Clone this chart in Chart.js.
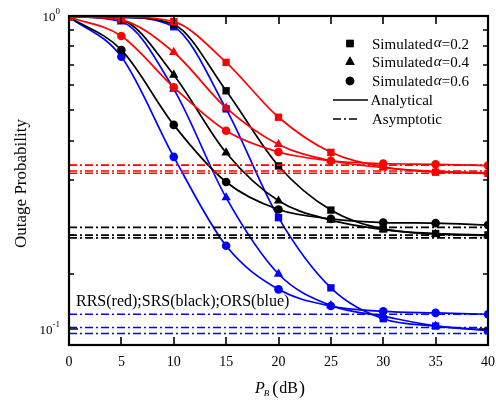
<!DOCTYPE html>
<html>
<head>
<meta charset="utf-8">
<script src="https://cdn.jsdelivr.net/npm/chart.js@4/dist/chart.umd.min.js"></script>
<style>
  html, body { margin: 0; padding: 0; background: #fff; }
  #wrap { width: 496px; height: 402px; }
</style>
</head>
<body>
<div id="wrap"><canvas id="c" width="496" height="402"></canvas></div>
<script>
// Transmit power P_B (dB)
const pB = [0, 5, 10, 15, 20, 25, 30, 35, 40];

// RRS (red)
const rrsA02 = [0.996, 0.993, 0.959, 0.711, 0.475, 0.367, 0.330, 0.317, 0.3145];
const rrsA04 = [0.995, 0.970, 0.766, 0.509, 0.389, 0.345, 0.328, 0.319, 0.316];
const rrsA06 = [0.993, 0.863, 0.592, 0.430, 0.368, 0.345, 0.338, 0.336, 0.333];

// SRS (black)
const srsA02 = [0.996, 0.990, 0.940, 0.577, 0.332, 0.240, 0.209, 0.202, 0.200];
const srsA04 = [0.995, 0.970, 0.648, 0.366, 0.257, 0.223, 0.208, 0.201, 0.199];
const srsA06 = [0.993, 0.779, 0.449, 0.295, 0.241, 0.225, 0.219, 0.218, 0.215];

// ORS (blue)
const orsA02 = [0.996, 0.990, 0.924, 0.505, 0.227, 0.1355, 0.108, 0.1023, 0.0989];
const orsA04 = [0.995, 0.959, 0.584, 0.263, 0.150, 0.119, 0.110, 0.1024, 0.0994];
const orsA06 = [0.993, 0.741, 0.355, 0.1846, 0.134, 0.1185, 0.114, 0.1127, 0.1116];

// High-SNR asymptotes, ordered alpha = 0.2, 0.4, 0.6
const asymRRS = [0.3145, 0.320, 0.334];
const asymSRS = [0.1957, 0.1997, 0.2113];
const asymORS = [0.0969, 0.1012, 0.1116];

const alphas = ['0.2', '0.4', '0.6'];
const schemeNote = 'RRS(red);SRS(black);ORS(blue)';

const RED = '#ff0000', BLACK = '#000000', BLUE = '#0000ff';
const SERIF = '"Liberation Serif", "Times New Roman", serif';
const markers = ['rect', 'triangle', 'circle'];
const markerRadius = { rect: 5.2, triangle: 5.4, circle: 4.3 };

const toXY = vals => pB.map((x, i) => ({ x, y: vals[i] }));

const groups = [
  { color: RED, sets: [rrsA02, rrsA04, rrsA06], asym: asymRRS },
  { color: BLACK, sets: [srsA02, srsA04, srsA06], asym: asymSRS },
  { color: BLUE, sets: [orsA02, orsA04, orsA06], asym: asymORS }
];

const datasets = [];
groups.forEach(g => {
  g.sets.forEach((vals, k) => {
    datasets.push({
      label: 'alpha=' + alphas[k],
      data: toXY(vals),
      showLine: true,
      cubicInterpolationMode: 'monotone',
      borderColor: g.color,
      backgroundColor: g.color,
      borderWidth: 1.7,
      pointStyle: markers[k],
      pointRadius: markerRadius[markers[k]],
      pointBorderWidth: 0,
      pointBackgroundColor: g.color
    });
  });
  g.asym.forEach((v, k) => {
    datasets.push({
      label: 'asymptote alpha=' + alphas[k],
      data: [{ x: pB[0], y: v }, { x: pB[pB.length - 1], y: v }],
      showLine: true,
      borderColor: g.color,
      borderWidth: 1.6,
      borderDash: [8, 3, 2, 3],
      pointRadius: 0
    });
  });
});

// Frame, inward ticks, decade labels, axis titles, legend and note
const decorations = {
  id: 'decorations',
  afterDraw(chart) {
    const { ctx, chartArea: a, scales } = chart;
    const xs = scales.x, ys = scales.y;
    ctx.save();
    ctx.strokeStyle = '#000';
    ctx.fillStyle = '#000';

    // ticks
    ctx.lineWidth = 1.6;
    ctx.beginPath();
    xs.ticks.forEach(t => {
      const px = Math.round(xs.getPixelForValue(t.value));
      if (px <= a.left + 1 || px >= a.right - 1) return;
      ctx.moveTo(px, a.bottom); ctx.lineTo(px, a.bottom - 8);
      ctx.moveTo(px, a.top); ctx.lineTo(px, a.top + 8);
    });
    ys.ticks.forEach(t => {
      const py = Math.round(ys.getPixelForValue(t.value));
      if (py <= a.top + 1 || py >= a.bottom - 1) return;
      const lg = Math.log10(t.value);
      const len = Math.abs(lg - Math.round(lg)) < 1e-6 ? 9 : 5;
      ctx.moveTo(a.left, py); ctx.lineTo(a.left + len, py);
      ctx.moveTo(a.right, py); ctx.lineTo(a.right - len, py);
    });
    ctx.stroke();

    // frame
    ctx.lineWidth = 2.2;
    ctx.strokeRect(a.left, a.top, a.right - a.left, a.bottom - a.top);

    // decade labels 10^n
    ys.ticks.forEach(t => {
      const lg = Math.log10(t.value);
      if (Math.abs(lg - Math.round(lg)) > 1e-6) return;
      const py = ys.getPixelForValue(t.value);
      const exp = String(Math.round(lg));
      ctx.font = '9px ' + SERIF;
      const ew = ctx.measureText(exp).width;
      ctx.font = '13px ' + SERIF;
      const bw = ctx.measureText('10').width;
      const right = a.left - 9;
      ctx.textBaseline = 'alphabetic';
      ctx.textAlign = 'left';
      ctx.fillText('10', right - ew - bw, py + 4.5);
      ctx.font = '9px ' + SERIF;
      ctx.fillText(exp, right - ew, py - 2);
    });

    // y title
    ctx.save();
    ctx.translate(22, (a.top + a.bottom) / 2 + 3);
    ctx.rotate(-Math.PI / 2);
    ctx.font = '17px ' + SERIF;
    ctx.textAlign = 'center';
    ctx.textBaseline = 'middle';
    ctx.fillText('Outage Probability', 0, 0);
    ctx.restore();

    // x title: P_B (dB)
    ctx.textAlign = 'left';
    ctx.textBaseline = 'alphabetic';
    let x = 255;
    const base = 393;
    ctx.font = 'italic 16px ' + SERIF;
    ctx.fillText('P', x, base); x += ctx.measureText('P').width - 1;
    ctx.font = 'italic 9px ' + SERIF;
    ctx.fillText('B', x, base + 3); x += ctx.measureText('B').width + 3;
    ctx.font = '18px ' + SERIF;
    ctx.fillText('(', x, base + 1); x += ctx.measureText('(').width + 1;
    ctx.font = '16px ' + SERIF;
    ctx.fillText('dB', x, base); x += ctx.measureText('dB').width + 1;
    ctx.font = '18px ' + SERIF;
    ctx.fillText(')', x, base + 1);

    // legend
    const rows = [43.5, 62, 81];
    markers.forEach((m, k) => {
      Chart.helpers.drawPoint(ctx, { pointStyle: m, radius: markerRadius[m], rotation: 0, borderWidth: 0 }, 350, rows[k]);
      ctx.fillStyle = '#000';
      ctx.fill();
      let tx = 372;
      ctx.font = '15px ' + SERIF;
      ctx.fillText('Simulated', tx, rows[k] + 5); tx += ctx.measureText('Simulated').width + 1;
      ctx.font = 'italic 15px ' + SERIF;
      ctx.fillText('\u03B1', tx, rows[k] + 3.5); tx += ctx.measureText('\u03B1').width;
      ctx.font = '15px ' + SERIF;
      ctx.fillText('=' + alphas[k], tx, rows[k] + 5);
    });
    ctx.lineWidth = 1.7;
    ctx.beginPath(); ctx.moveTo(333, 100); ctx.lineTo(368, 100); ctx.stroke();
    ctx.font = '15px ' + SERIF;
    ctx.fillText('Analytical', 370.5, 105);
    ctx.setLineDash([8, 3, 2, 3]);
    ctx.beginPath(); ctx.moveTo(333, 119); ctx.lineTo(360, 119); ctx.stroke();
    ctx.setLineDash([]);
    ctx.fillText('Asymptotic', 372, 124);

    // scheme colour note
    ctx.font = '16px ' + SERIF;
    ctx.fillText(schemeNote, 76, 306);

    ctx.restore();
  }
};

new Chart(document.getElementById('c'), {
  type: 'scatter',
  data: { datasets },
  plugins: [decorations],
  options: {
    responsive: false,
    animation: false,
    devicePixelRatio: 1,
    layout: { padding: { top: 16, right: 8, left: 0, bottom: 0 } },
    plugins: { legend: { display: false }, tooltip: { enabled: false } },
    scales: {
      x: {
        type: 'linear',
        min: 0, max: 40,
        grid: { display: false },
        border: { display: false },
        ticks: { stepSize: 5, color: '#000', padding: 1, font: { family: SERIF, size: 14 } },
        afterFit: s => { s.height = 57; }
      },
      y: {
        type: 'logarithmic',
        min: 0.089, max: 1,
        grid: { display: false },
        border: { display: false },
        ticks: { callback: () => '' },
        afterFit: s => { s.height; s.width = 69; }
      }
    }
  }
});
</script>
</body>
</html>
